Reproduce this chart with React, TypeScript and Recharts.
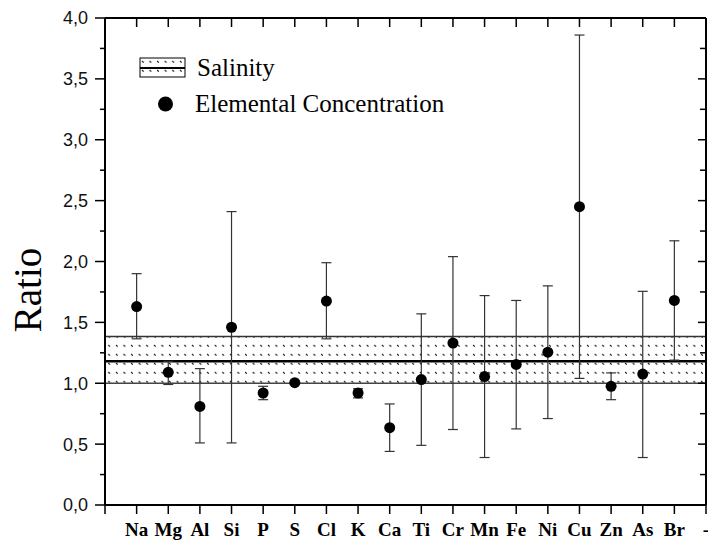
import React from 'react';
import {
  ComposedChart, Scatter, ErrorBar, XAxis, YAxis, ReferenceArea, ReferenceLine, Label,
} from 'recharts';

const elements = ['Na', 'Mg', 'Al', 'Si', 'P', 'S', 'Cl', 'K', 'Ca', 'Ti', 'Cr', 'Mn', 'Fe', 'Ni', 'Cu', 'Zn', 'As', 'Br'];
const tickLabels = ['', ...elements, '-'];
const centers = [1.63, 1.09, 0.81, 1.46, 0.92, 1.005, 1.675, 0.92, 0.635, 1.03, 1.33, 1.055, 1.155, 1.255, 2.45, 0.975, 1.075, 1.68];
const lowers = [1.365, 0.99, 0.51, 0.51, 0.865, 1.0, 1.365, 0.88, 0.44, 0.49, 0.62, 0.39, 0.625, 0.71, 1.04, 0.865, 0.39, 1.19];
const uppers = [1.9, 1.18, 1.12, 2.41, 0.975, 1.01, 1.99, 0.955, 0.83, 1.57, 2.04, 1.72, 1.68, 1.8, 3.86, 1.085, 1.755, 2.17];
const salinityLow = 1.0;
const salinityMid = 1.18;
const salinityHigh = 1.385;
const yTicks = [0, 0.25, 0.5, 0.75, 1, 1.25, 1.5, 1.75, 2, 2.25, 2.5, 2.75, 3, 3.25, 3.5, 3.75, 4];
const xTicks = tickLabels.map((_, i) => i);
const Y_MIN = 0;
const Y_MAX = 4;
const PLOT_TOP = 18;

const rows = elements.map((e, i) => ({
  x: i + 1,
  y: centers[i],
  err: [centers[i] - lowers[i], uppers[i] - centers[i]],
}));

const isMajor = (v: number) => Math.abs(v * 2 - Math.round(v * 2)) < 1e-6;

const LeftTick = (props: any) => {
  const { x, y, payload } = props;
  const v = payload.value as number;
  const major = isMajor(v);
  return (
    <g>
      <line x1={x - (major ? 10 : 5)} x2={x} y1={y} y2={y} stroke="#000" strokeWidth={1.5} />
      {major && (
        <text x={x - 17} y={y} dy="0.36em" textAnchor="end" fontFamily="'Liberation Sans', Arial, sans-serif" fontSize={18} fill="#111">
          {v.toFixed(1).replace('.', ',')}
        </text>
      )}
    </g>
  );
};

const RightTick = (props: any) => {
  const { x, y, payload } = props;
  const v = payload.value as number;
  const major = isMajor(v);
  return <line x1={x - (major ? 8 : 6)} x2={x} y1={y} y2={y} stroke="#000" strokeWidth={1.5} />;
};

// bottom tick: outward mark + label; also the mirrored inward mark on the top frame edge
const BottomTick = (props: any) => {
  const { x, y, payload } = props;
  const label = tickLabels[payload.value] ?? '';
  return (
    <g>
      <rect x={x - 0.75} y={y} width={1.5} height={9} fill="#000" />
      <rect x={x - 0.75} y={PLOT_TOP} width={1.5} height={9} fill="#000" />
      <text x={x} y={y + 18} dy="0.7em" textAnchor="middle" fontFamily="'Liberation Serif', 'Times New Roman', serif" fontWeight="bold" fontSize={19} fill="#000">
        {label}
      </text>
    </g>
  );
};

const Dot = (p: any) => <circle cx={p.cx} cy={p.cy} r={5.5} fill="#000" />;

const serif = "'Liberation Serif', 'Times New Roman', serif";

export default function App() {
  return (
    <div style={{ position: 'absolute', left: 0, top: 0, width: 708, height: 540, background: '#fff' }}>
      <ComposedChart width={708} height={540} data={rows} margin={{ top: PLOT_TOP, right: 1, bottom: 0, left: 0 }}>
        <defs>
          <pattern id="dots" patternUnits="userSpaceOnUse" width="7.6" height="9">
            <line x1="2" y1="3" x2="3.6" y2="4.6" stroke="#111" strokeWidth="1.1" />
          </pattern>
        </defs>
        <XAxis xAxisId="bottom" type="number" dataKey="x" domain={[0, 19]} ticks={xTicks} allowDataOverflow
          orientation="bottom" height={35} axisLine={{ stroke: '#000', strokeWidth: 2 }}
          tickLine={false} tickSize={0} tickMargin={0} tick={<BottomTick />} interval={0} />
        <YAxis yAxisId="left" type="number" dataKey="y" domain={[Y_MIN, Y_MAX]} ticks={yTicks} allowDataOverflow
          width={105} axisLine={{ stroke: '#000', strokeWidth: 2 }} tickLine={false}
          tickSize={0} tickMargin={0} tick={<LeftTick />} interval={0}>
          <Label content={() => (
            <text x={41} y={290} transform="rotate(-90, 41, 290)" textAnchor="middle" fontFamily={serif} fontSize={39} fill="#000">Ratio</text>
          )} />
        </YAxis>
        <YAxis yAxisId="right" orientation="right" type="number" dataKey="y" domain={[Y_MIN, Y_MAX]} ticks={yTicks} allowDataOverflow
          width={1} axisLine={{ stroke: '#000', strokeWidth: 2 }} tickLine={false}
          tickSize={0} tickMargin={0} tick={<RightTick />} interval={0} />
        <ReferenceArea xAxisId="bottom" yAxisId="left" y1={salinityLow} y2={salinityHigh} fill="url(#dots)" fillOpacity={1} stroke="none" />
        <ReferenceLine xAxisId="bottom" yAxisId="left" y={salinityLow} stroke="#444" strokeWidth={1.5} />
        <ReferenceLine xAxisId="bottom" yAxisId="left" y={salinityHigh} stroke="#333" strokeWidth={1.5} />
        <ReferenceLine xAxisId="bottom" yAxisId="left" y={salinityMid} stroke="#000" strokeWidth={2.5} />
        <ReferenceLine xAxisId="bottom" yAxisId="left" y={Y_MAX} stroke="#000" strokeWidth={2} ifOverflow="visible" />
        <Scatter xAxisId="bottom" yAxisId="left" dataKey="y" shape={<Dot />} isAnimationActive={false}>
          <ErrorBar dataKey="err" direction="y" width={5} stroke="#333" strokeWidth={1.2} isAnimationActive={false} />
        </Scatter>
      </ComposedChart>
      <svg width={708} height={540} style={{ position: 'absolute', left: 0, top: 0, pointerEvents: 'none' }}>
        <defs>
          <pattern id="dots2" patternUnits="userSpaceOnUse" width="7.6" height="9" x="140" y="58">
            <line x1="2" y1="3" x2="3.6" y2="4.6" stroke="#111" strokeWidth="1.1" />
          </pattern>
        </defs>
        <rect x={140} y={58} width={45} height={19} fill="url(#dots2)" stroke="#000" strokeWidth={1} />
        <line x1={140} x2={185} y1={68} y2={68} stroke="#000" strokeWidth={2} />
        <text x={197} y={76} fontFamily={serif} fontSize={25} fill="#000">Salinity</text>
        <circle cx={165.5} cy={104} r={7.5} fill="#000" />
        <text x={195} y={112} fontFamily={serif} fontSize={25} fill="#000">Elemental Concentration</text>
      </svg>
    </div>
  );
}
